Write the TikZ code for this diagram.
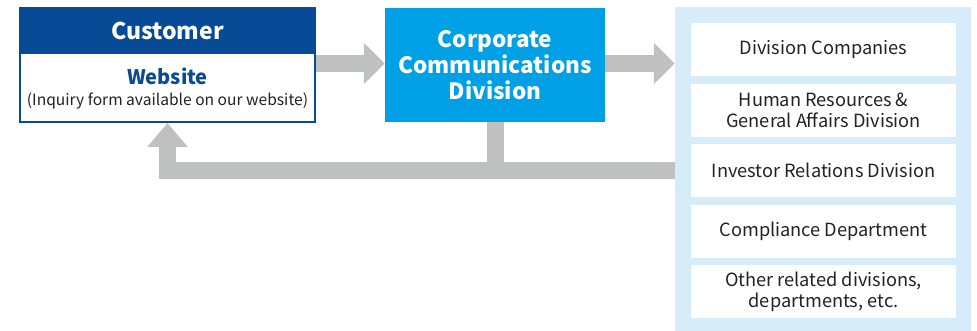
\documentclass[tikz,border=0pt]{standalone}
\usepackage{fontspec}
\setmainfont{Noto Sans CJK JP}
\usetikzlibrary{arrows.meta}
\definecolor{darkblue}{RGB}{7,74,150}
\definecolor{corpblue}{RGB}{0,160,230}
\definecolor{paleblue}{RGB}{214,236,249}
\definecolor{arrowgray}{RGB}{191,192,192}
\definecolor{txt}{RGB}{34,34,34}
\tikzset{
  box/.style={draw=none, rectangle, inner sep=0pt, align=center},
  unitbox/.style={box, fill=white, minimum width=265pt, minimum height=53pt, text=txt, font=\fontsize{18.2}{21}\selectfont},
  flow/.style={draw=arrowgray, line width=17pt, line cap=butt, line join=miter,
    -{Triangle[length=21pt,width=40pt]}},
  band/.style={draw=arrowgray, line width=17pt, line cap=butt, line join=miter},
}
\begin{document}
\begin{tikzpicture}[x=1pt,y=-1pt]
\useasboundingbox (0,0) rectangle (977,331);
% customer
\node[box, fill=white, draw=darkblue, line width=2pt, minimum width=295pt, minimum height=114pt] (cust) at (167.5,65) {};
\node[box, fill=darkblue, minimum width=297pt, minimum height=47pt, text=white, font=\bfseries\fontsize{23}{26}\selectfont] (custhead) at (167.5,30.5) {Customer};
\node[box, text=darkblue, font=\bfseries\fontsize{20}{23}\selectfont] (web) at (167.5,76) {Website};
\node[box, text=txt, font=\fontsize{15.6}{19}\selectfont] (inq) at (167.5,100.5) {(Inquiry form available on our website)};
% corporate
\node[box, fill=corpblue, minimum width=220pt, minimum height=114pt, text=white, font=\bfseries\fontsize{22.5}{26}\selectfont] (corp) at (495,65) {Corporate\\Communications\\Division};
% panel
\node[box, fill=paleblue, minimum width=296pt, minimum height=324pt] (panel) at (823,169) {};
\node[unitbox] (u1) at (823.5,49.5) {Division Companies};
\node[unitbox] (u2) at (823.5,110.5) {Human Resources \&\\General Affairs Division};
\node[unitbox] (u3) at (823.5,170.5) {Investor Relations Division};
\node[unitbox] (u4) at (823.5,231.5) {Compliance Department};
\node[unitbox] (u5) at (823.5,291.5) {Other related divisions,\\departments, etc.};
% connectors
\coordinate (fbr) at (panel.west |- 0,170.5);
\coordinate (fbl) at (cust.south |- 0,170.5);
\coordinate (fbm) at (corp.south |- 0,170.5);
\draw[flow] (cust.east |- 0,63.5) -- (corp.west |- 0,63.5);
\draw[flow] (corp.east |- 0,63.5) -- (panel.west |- 0,63.5);
\draw[band] (corp.south) -- (fbm);
\draw[flow, -{Triangle[length=24pt,width=39pt]}] (fbr) -- (fbl) -- (cust.south);
\end{tikzpicture}
\end{document}
